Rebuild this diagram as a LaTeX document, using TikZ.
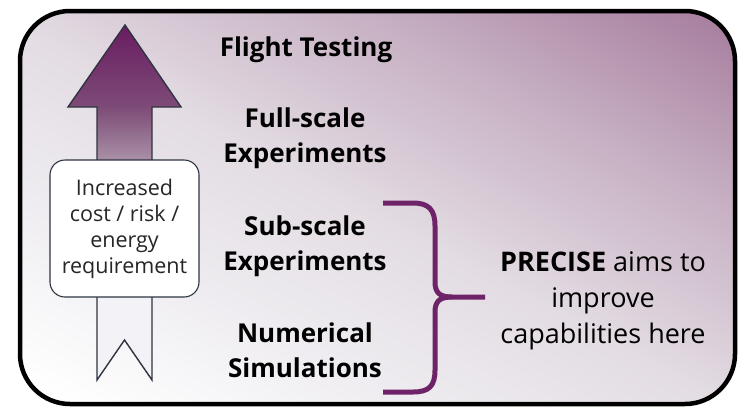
\documentclass[tikz,border=0pt]{standalone}
\usepackage{fontspec}
\setmainfont{Open Sans}
\definecolor{bgpurple}{HTML}{A57B9D}
\definecolor{bgmauve}{HTML}{C6AFC2}
\definecolor{bgmid}{HTML}{E3DCE3}
\definecolor{bglight}{HTML}{EEECF0}
\definecolor{arrowtop}{HTML}{691C61}
\definecolor{arrowmid}{HTML}{7D4B77}
\definecolor{arrowpale}{HTML}{A990A6}
\definecolor{arrowbot}{HTML}{F3F2F6}
\definecolor{arrowline}{HTML}{2E3440}
\definecolor{bracecol}{HTML}{6E2368}
% panel background: white lower left, mauve upper right
\pgfdeclareverticalshading{panelfill}{100bp}{color(0bp)=(white); color(25bp)=(white);
  color(37.5bp)=(bglight); color(48.5bp)=(bgmid); color(62bp)=(bgmauve);
  color(75bp)=(bgpurple); color(100bp)=(bgpurple)}
% arrow body: dark purple tip fading to white tail
\pgfdeclareverticalshading{arrowfill}{100bp}{color(0bp)=(arrowbot); color(25bp)=(arrowbot);
  color(42bp)=(arrowbot); color(56bp)=(arrowpale); color(63.5bp)=(arrowmid);
  color(75bp)=(arrowtop); color(100bp)=(arrowtop)}
\tikzset{
  stagelabel/.style={font=\fontsize{26}{35}\selectfont\bfseries, align=center, text=black},
  notebox/.style={draw=arrowline, line width=1.1pt, fill=white, rounded corners=15pt,
    minimum width=149pt, minimum height=137pt, align=center, inner sep=0pt,
    font=\fontsize{21.5}{26}\selectfont, text=black!85},
  aimtext/.style={font=\fontsize{27}{36}\selectfont, align=center, text=black},
}
\begin{document}
\begin{tikzpicture}[x=1pt,y=-1pt]
  \useasboundingbox (0,0) rectangle (738,410);
  \fill[white] (0,0) rectangle (738,410);

  % outer panel with diagonal shading
  \coordinate (pc) at (377.5,207.5);
  \begin{scope}
    \clip[rounded corners=50pt] (20,11) rectangle (735,404);
    \begin{scope}[transform canvas={rotate around={-28:(pc)}}]
      \shade[shading=panelfill] ([shift={(-700,-341)}]pc) rectangle ([shift={(700,319)}]pc);
    \end{scope}
  \end{scope}
  \draw[black, line width=4.5pt, rounded corners=50pt] (20,11) rectangle (735,404);

  % upward arrow with notched tail
  \shade[shading=arrowfill, draw=arrowline, line width=1.4pt, line join=miter]
    (97,380) -- (97,107) -- (68,107) -- (125,25) -- (181,107) -- (152,107)
    -- (152,380) -- (124.5,340) -- cycle;

  \node[notebox] (cost) at (124.5,228.5) {Increased\\cost / risk /\\energy\\requirement};

  % fidelity levels
  \node[stagelabel] (flight) at (306,50) {Flight Testing};
  \node[stagelabel] (full) at (305,138) {Full-scale\\Experiments};
  \node[stagelabel] (sub) at (305,246) {Sub-scale\\Experiments};
  \node[stagelabel] (num) at (305,350) {Numerical\\Simulations};

  % brace grouping the two lower levels
  \coordinate (btop) at (383,203);
  \coordinate (bbot) at (383,392);
  \coordinate (btip) at (485,297);
  \draw[bracecol, line width=5pt, line join=round]
    (btop) -- (413,203) .. controls (429,203) and (435,210) .. (435,226)
    -- (435,282) .. controls (435,293) and (440,297) .. (452,297) -- (btip);
  \draw[bracecol, line width=5pt, line join=round]
    (452,297) .. controls (440,297) and (435,301) .. (435,312)
    -- (435,370) .. controls (435,386) and (429,392) .. (413,392) -- (bbot);

  \node[aimtext] (aim) at (603,301) {\textbf{PRECISE} aims to\\improve\\capabilities here};
\end{tikzpicture}
\end{document}
